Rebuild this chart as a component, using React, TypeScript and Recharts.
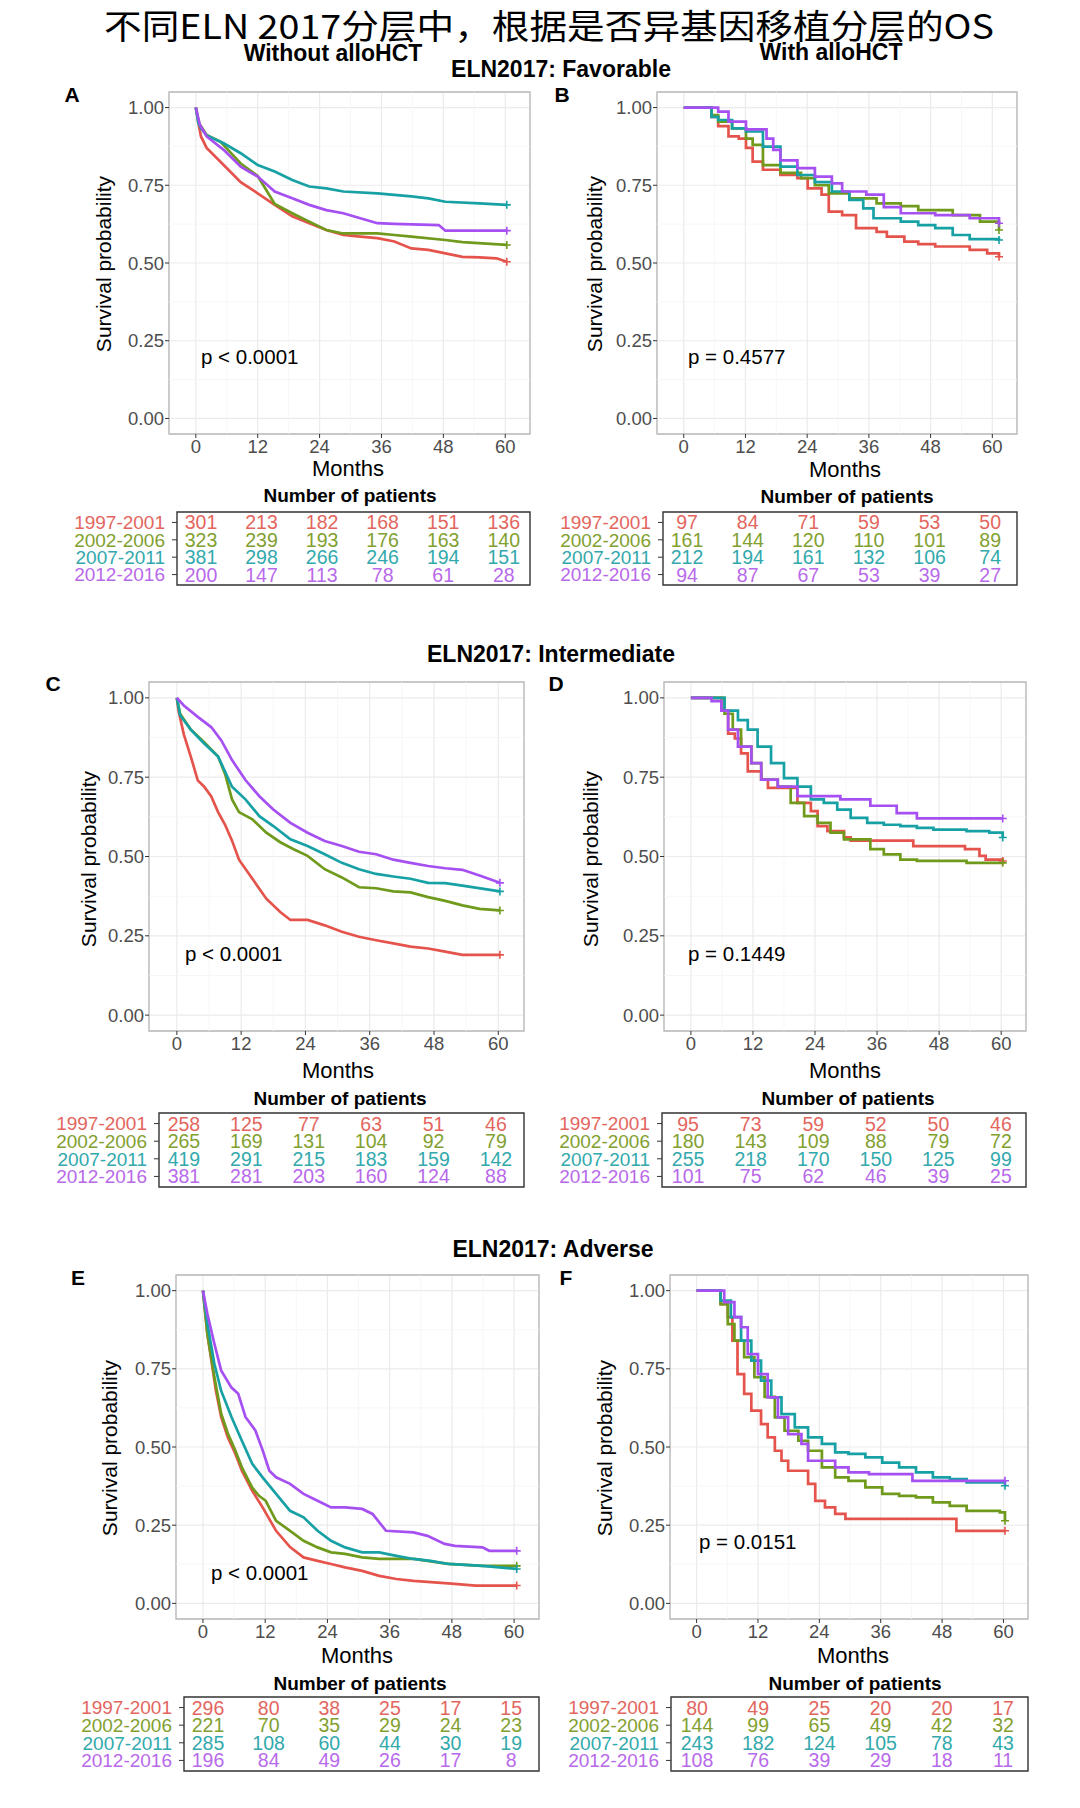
import React from 'react';
import {
  LineChart, Line, XAxis, YAxis, CartesianGrid, ReferenceArea, ReferenceLine,
  ScatterChart, Scatter,
} from 'recharts';

type Pt = [number, number];

const SANS = "'Liberation Sans', Arial, sans-serif";
const GROUPS = ['1997-2001', '2002-2006', '2007-2011', '2012-2016'];
const LINE_COLORS = ['#E5544C', '#6F9A1C', '#17A1A5', '#A650F2'];
const TEXT_COLORS = ['#E3665E', '#82A030', '#32A9AC', '#B869EA'];
const X_TICKS = [0, 12, 24, 36, 48, 60];
const X_MINOR = [6, 18, 30, 42, 54];
const Y_TICKS = [0, 0.25, 0.5, 0.75, 1];
const Y_MINOR = [0.125, 0.375, 0.625, 0.875];
const X_DOMAIN: [number, number] = [-5.2, 64.8];
const Y_DOMAIN: [number, number] = [-0.05, 1.05];

// A: favorable, without alloHCT
const A_1997: Pt[] = [[0, 1], [0.5, 0.95], [1, 0.907], [2.1, 0.87], [5.4, 0.815], [8.7, 0.76], [12, 0.724], [15.3, 0.687], [18.7, 0.65], [22, 0.628], [25.3, 0.606], [28.6, 0.59], [31.9, 0.585], [35.2, 0.58], [38.5, 0.569], [41.8, 0.547], [45.1, 0.542], [48.4, 0.531], [51.7, 0.52], [55, 0.518], [58.3, 0.515], [60.3, 0.504]];
const A_2002: Pt[] = [[0, 1], [0.6, 0.95], [2.1, 0.912], [4.8, 0.89], [8.7, 0.82], [12, 0.78], [15.3, 0.69], [18.7, 0.66], [22, 0.633], [25.3, 0.606], [28.6, 0.595], [35.2, 0.595], [38.5, 0.59], [41.8, 0.585], [48.4, 0.574], [51.7, 0.567], [60.3, 0.558]];
const A_2007: Pt[] = [[0, 1], [0.5, 0.95], [1, 0.933], [2.1, 0.91], [5.4, 0.885], [8.7, 0.853], [12, 0.815], [15.3, 0.794], [18.7, 0.767], [22, 0.746], [25.3, 0.74], [28.6, 0.73], [35.2, 0.724], [38.5, 0.719], [41.8, 0.714], [45.1, 0.708], [48.4, 0.697], [55, 0.692], [60.3, 0.687]];
const A_2012: Pt[] = [[0, 1], [0.8, 0.944], [2.1, 0.907], [5.4, 0.864], [8.7, 0.81], [12, 0.778], [15.3, 0.73], [18.7, 0.708], [22, 0.687], [25.3, 0.67], [28.6, 0.66], [31.9, 0.644], [35.2, 0.628], [38.5, 0.626], [47.1, 0.622], [48.4, 0.604], [60.3, 0.604]];
const A_RISK = [[301, 213, 182, 168, 151, 136], [323, 239, 193, 176, 163, 140], [381, 298, 266, 246, 194, 151], [200, 147, 113, 78, 61, 28]];

// B: favorable, with alloHCT
const B_1997: Pt[] = [[0, 1], [4, 1], [5.4, 0.97], [6.7, 0.94], [8.7, 0.907], [10.7, 0.9], [12.1, 0.87], [13.4, 0.826], [15.4, 0.8], [18.8, 0.783], [22.1, 0.773], [24.1, 0.74], [26.8, 0.72], [28.2, 0.665], [30.8, 0.654], [33.5, 0.612], [37.5, 0.6], [39.5, 0.585], [42.9, 0.569], [45.6, 0.561], [48.9, 0.553], [55.6, 0.542], [59, 0.531], [61.3, 0.52]];
const B_2002: Pt[] = [[0, 1], [3.4, 1], [5.4, 0.976], [6.7, 0.955], [9.4, 0.933], [12.1, 0.9], [13.4, 0.88], [15.4, 0.815], [18.8, 0.79], [22.8, 0.773], [25.5, 0.75], [28.2, 0.724], [32.2, 0.708], [37.5, 0.692], [42.2, 0.683], [45.6, 0.67], [52.3, 0.654], [57.6, 0.633], [61.3, 0.606]];
const B_2007: Pt[] = [[0, 1], [4, 1], [5.4, 0.97], [6.7, 0.96], [9.4, 0.933], [12.1, 0.923], [15.4, 0.874], [18.8, 0.81], [22.1, 0.783], [25.5, 0.76], [28.8, 0.73], [32.2, 0.703], [34.9, 0.676], [36.9, 0.644], [42.2, 0.633], [45.6, 0.622], [48.9, 0.612], [52.3, 0.59], [55.6, 0.577], [61.3, 0.574]];
const B_2012: Pt[] = [[0, 1], [6.4, 1], [6.7, 0.987], [8.7, 0.955], [12.1, 0.93], [15.4, 0.93], [16.1, 0.9], [17.4, 0.864], [18.8, 0.83], [22.1, 0.805], [25.5, 0.778], [28.8, 0.756], [30.8, 0.73], [35.5, 0.72], [38.9, 0.68], [42.2, 0.66], [48.9, 0.654], [55.6, 0.644], [61.3, 0.628]];
const B_RISK = [[97, 84, 71, 59, 53, 50], [161, 144, 120, 110, 101, 89], [212, 194, 161, 132, 106, 74], [94, 87, 67, 53, 39, 27]];

// C: intermediate, without alloHCT
const C_1997: Pt[] = [[0, 1], [0.3, 0.96], [1.3, 0.885], [2.6, 0.815], [3.9, 0.74], [5.1, 0.72], [6.4, 0.69], [7.7, 0.64], [9, 0.6], [10.3, 0.55], [11.6, 0.49], [14.1, 0.43], [16.7, 0.367], [19.3, 0.325], [21.2, 0.3], [24.4, 0.3], [27.6, 0.283], [30.8, 0.263], [34, 0.247], [37.2, 0.236], [40.4, 0.226], [43.6, 0.216], [46.9, 0.21], [50.1, 0.2], [53.3, 0.19], [60.3, 0.19]];
const C_2002: Pt[] = [[0, 1], [0.6, 0.95], [2.6, 0.9], [5.1, 0.86], [7.7, 0.815], [9, 0.76], [10.3, 0.68], [11.6, 0.64], [14.1, 0.617], [16.7, 0.575], [19.3, 0.545], [21.8, 0.523], [24.4, 0.502], [27.6, 0.46], [30.8, 0.434], [34, 0.403], [37.2, 0.4], [40.4, 0.39], [43.6, 0.387], [46.9, 0.372], [50.1, 0.36], [53.3, 0.346], [56.5, 0.335], [60.3, 0.33]];
const C_2007: Pt[] = [[0, 1], [0.6, 0.945], [2.6, 0.9], [5.1, 0.856], [7.7, 0.815], [10.3, 0.72], [12.8, 0.68], [15.4, 0.627], [18, 0.596], [21.2, 0.554], [24.4, 0.533], [27.6, 0.507], [30.8, 0.48], [34, 0.46], [37.2, 0.445], [40.4, 0.437], [43.6, 0.43], [46.9, 0.417], [50.1, 0.416], [53.3, 0.408], [60.3, 0.39]];
const C_2012: Pt[] = [[0, 1], [1.3, 0.976], [3.9, 0.94], [6.4, 0.908], [8.3, 0.866], [10.3, 0.804], [12.8, 0.741], [15.4, 0.69], [18, 0.648], [21.2, 0.606], [24.4, 0.575], [27.6, 0.549], [30.8, 0.533], [34, 0.515], [37.2, 0.507], [40.4, 0.49], [43.6, 0.48], [46.9, 0.47], [50.1, 0.463], [53.3, 0.458], [56.5, 0.44], [60.3, 0.417]];
const C_RISK = [[258, 125, 77, 63, 51, 46], [265, 169, 131, 104, 92, 79], [419, 291, 215, 183, 159, 142], [381, 281, 203, 160, 124, 88]];

// D: intermediate, with alloHCT
const D_1997: Pt[] = [[0, 1], [4.6, 1], [5.9, 0.96], [7.2, 0.887], [8.5, 0.872], [9.7, 0.825], [11, 0.768], [13.6, 0.742], [14.9, 0.716], [20.6, 0.669], [23.2, 0.643], [24.5, 0.596], [26.4, 0.58], [29.6, 0.56], [30.9, 0.55], [43, 0.533], [53, 0.523], [55.8, 0.502], [57, 0.49], [60.3, 0.486]];
const D_2002: Pt[] = [[0, 1], [4.6, 1], [6.5, 0.95], [8.1, 0.9], [9.7, 0.846], [11.7, 0.794], [13.6, 0.742], [16.8, 0.72], [19.3, 0.669], [21.9, 0.627], [24.5, 0.606], [27, 0.575], [29.6, 0.554], [34.7, 0.523], [37.3, 0.507], [40.5, 0.49], [43.7, 0.486], [53.3, 0.48], [60.3, 0.48]];
const D_2007: Pt[] = [[0, 1], [4.9, 1], [6.5, 0.96], [9.1, 0.93], [11, 0.9], [12.9, 0.846], [15.5, 0.794], [18, 0.747], [20.6, 0.72], [23.2, 0.68], [25.7, 0.669], [28.3, 0.648], [30.9, 0.622], [34.1, 0.606], [37.3, 0.6], [40.5, 0.596], [43.7, 0.59], [46.9, 0.585], [53.3, 0.58], [57.7, 0.575], [60.3, 0.56]];
const D_2012: Pt[] = [[0, 1], [2.7, 1], [4, 0.99], [5.9, 0.96], [7.2, 0.9], [9.1, 0.846], [11.7, 0.794], [13.6, 0.742], [16.8, 0.72], [20.6, 0.69], [28.9, 0.68], [34.7, 0.66], [39.8, 0.637], [43.7, 0.62], [60.3, 0.62]];
const D_RISK = [[95, 73, 59, 52, 50, 46], [180, 143, 109, 88, 79, 72], [255, 218, 170, 150, 125, 99], [101, 75, 62, 46, 39, 25]];

// E: adverse, without alloHCT
const E_1997: Pt[] = [[0, 1], [0.86, 0.86], [1.5, 0.79], [2.5, 0.68], [3.5, 0.596], [4.8, 0.53], [6.2, 0.48], [7.5, 0.424], [9.5, 0.36], [11.5, 0.307], [14.1, 0.232], [16.8, 0.18], [19.4, 0.147], [22.1, 0.136], [24.7, 0.126], [27.4, 0.115], [30.7, 0.104], [34, 0.088], [37.3, 0.078], [40.6, 0.072], [47.3, 0.064], [52.6, 0.057], [60.5, 0.057]];
const E_2002: Pt[] = [[0, 1], [0.86, 0.86], [2.2, 0.724], [3.5, 0.607], [4.8, 0.543], [6.2, 0.49], [7.5, 0.435], [9.5, 0.37], [10.8, 0.344], [12.1, 0.328], [14.1, 0.264], [16.8, 0.232], [19.4, 0.2], [22.1, 0.179], [24.7, 0.163], [27.4, 0.158], [30.7, 0.147], [34, 0.142], [40.6, 0.142], [47.3, 0.126], [53.9, 0.12], [60.5, 0.12]];
const E_2007: Pt[] = [[0, 1], [0.86, 0.893], [2.2, 0.766], [3.5, 0.68], [5.5, 0.596], [7.5, 0.52], [9.5, 0.446], [11.5, 0.403], [14.1, 0.35], [16.8, 0.296], [19.4, 0.275], [22.1, 0.232], [24.7, 0.2], [27.4, 0.179], [30.7, 0.163], [34, 0.163], [37.3, 0.152], [40.6, 0.142], [43.9, 0.136], [47.3, 0.126], [53.9, 0.12], [60.5, 0.11]];
const E_2012: Pt[] = [[0, 1], [0.86, 0.925], [2.2, 0.83], [3.5, 0.745], [5.5, 0.69], [6.8, 0.67], [8.2, 0.596], [10.1, 0.553], [11.5, 0.49], [12.8, 0.424], [14.1, 0.403], [16.8, 0.382], [19.4, 0.35], [22.1, 0.328], [24.7, 0.307], [27.4, 0.307], [30.7, 0.302], [32.7, 0.286], [35.3, 0.232], [40.6, 0.227], [43.3, 0.216], [46.6, 0.19], [48.6, 0.184], [53.9, 0.179], [55.2, 0.168], [60.5, 0.168]];
const E_RISK = [[296, 80, 38, 25, 17, 15], [221, 70, 35, 29, 24, 23], [285, 108, 60, 44, 30, 19], [196, 84, 49, 26, 17, 8]];

// F: adverse, with alloHCT
const F_1997: Pt[] = [[0, 1], [2.8, 1], [4.7, 0.957], [6.1, 0.915], [7, 0.84], [8, 0.733], [9.3, 0.67], [10.7, 0.616], [12.6, 0.573], [13.9, 0.531], [15.3, 0.488], [16.6, 0.456], [17.9, 0.424], [21.8, 0.382], [23.2, 0.328], [25.1, 0.307], [27.1, 0.286], [29.1, 0.27], [50.8, 0.232], [60.3, 0.232]];
const F_2002: Pt[] = [[0, 1], [3.1, 1], [4.7, 0.957], [6.1, 0.893], [7.4, 0.84], [9.3, 0.787], [11.3, 0.723], [13.3, 0.66], [15.3, 0.595], [17.2, 0.552], [19.9, 0.52], [21.8, 0.488], [24.5, 0.435], [27.1, 0.403], [29.7, 0.392], [33, 0.371], [36.3, 0.35], [39.6, 0.344], [42.9, 0.339], [46.2, 0.323], [49.5, 0.312], [52.8, 0.296], [59.3, 0.291], [60.3, 0.264]];
const F_2007: Pt[] = [[0, 1], [3.4, 1], [4.7, 0.968], [6.7, 0.915], [8.7, 0.84], [10.7, 0.776], [12.6, 0.712], [14.6, 0.659], [16.6, 0.605], [19.2, 0.563], [21.8, 0.531], [24.5, 0.51], [27.1, 0.483], [29.7, 0.478], [33, 0.467], [36.3, 0.45], [39.6, 0.435], [42.9, 0.419], [46.2, 0.403], [49.5, 0.397], [52.8, 0.387], [60.3, 0.376]];
const F_2012: Pt[] = [[0, 1], [4.1, 1], [5.4, 0.963], [7.4, 0.915], [8.7, 0.883], [10, 0.797], [12, 0.733], [13.9, 0.659], [15.9, 0.595], [17.9, 0.541], [20.5, 0.51], [21.8, 0.456], [27.1, 0.435], [29.7, 0.419], [33.7, 0.413], [42.2, 0.392], [60.3, 0.392]];
const F_RISK = [[80, 49, 25, 20, 20, 17], [144, 99, 65, 49, 42, 32], [243, 182, 124, 105, 78, 43], [108, 76, 39, 29, 18, 11]];

const P_VALUES = ['p < 0.0001', 'p = 0.4577', 'p < 0.0001', 'p = 0.1449', 'p < 0.0001', 'p = 0.0151'];

// layout of the six panels (plot box, table box, label spots)
const PANELS = [
  { id: 'A', series: [A_1997, A_2002, A_2007, A_2012], risk: A_RISK, step: false, box: [169, 530, 92, 434], tbox: [177, 530, 512, 585], tdom: [-4.75, 65.2], letter: [72, 102], ylab: [105, 264], pv: [201, 364], months: [348, 476], nop: [350, 502] },
  { id: 'B', series: [B_1997, B_2002, B_2007, B_2012], risk: B_RISK, step: true, box: [657, 1017, 92, 434], tbox: [663, 1017, 512, 585], tdom: [-4.75, 65.3], letter: [562, 102], ylab: [596, 264], pv: [688, 364], months: [845, 477], nop: [847, 503] },
  { id: 'C', series: [C_1997, C_2002, C_2007, C_2012], risk: C_RISK, step: false, box: [149, 524, 682, 1031], tbox: [159, 524, 1113, 1187], tdom: [-4.8, 65.4], letter: [53, 691], ylab: [90, 859], pv: [185, 961], months: [338, 1078], nop: [340, 1105] },
  { id: 'D', series: [D_1997, D_2002, D_2007, D_2012], risk: D_RISK, step: true, box: [664, 1026, 682, 1031], tbox: [662, 1026, 1113, 1187], tdom: [-5.0, 64.8], letter: [556, 691], ylab: [592, 859], pv: [688, 961], months: [845, 1078], nop: [848, 1105] },
  { id: 'E', series: [E_1997, E_2002, E_2007, E_2012], risk: E_RISK, step: false, box: [176, 539, 1275, 1619], tbox: [184, 539, 1697, 1771], tdom: [-4.75, 65.5], letter: [78, 1285], ylab: [111, 1448], pv: [211, 1580], months: [357, 1663], nop: [360, 1690] },
  { id: 'F', series: [F_1997, F_2002, F_2007, F_2012], risk: F_RISK, step: true, box: [670, 1028, 1275, 1619], tbox: [671, 1028, 1697, 1771], tdom: [-5.1, 64.9], letter: [566, 1285], ylab: [606, 1448], pv: [699, 1549], months: [853, 1663], nop: [855, 1690] },
];

const YW = 60;
const PAD = 10;
const XH = 36;
const TW = 120;

const endMark = (len: number, color: string) => (props: any) => {
  const { cx, cy, index } = props;
  if (index !== len - 1 || cx == null) return <g key={`e${index}`} />;
  return <path key={`e${index}`} d={`M${cx - 4},${cy}h8M${cx},${cy - 4}v8`} stroke={color} strokeWidth={1.6} />;
};

const KMPlot = ({ cfg }: { cfg: any }) => {
  const [x0, x1, y0, y1] = cfg.box;
  const w = x1 - x0;
  const h = y1 - y0;
  return (
    <div style={{ position: 'absolute', left: x0 - YW, top: y0 - PAD }}>
      <LineChart width={YW + w + PAD} height={PAD + h + XH} margin={{ top: PAD, right: PAD, bottom: 0, left: 0 }}>
        <CartesianGrid stroke="#ebebeb" strokeWidth={1.2} />
        {X_MINOR.map((v) => <ReferenceLine key={`xm${v}`} x={v} stroke="#f5f5f5" strokeWidth={0.8} />)}
        {Y_MINOR.map((v) => <ReferenceLine key={`ym${v}`} y={v} stroke="#f5f5f5" strokeWidth={0.8} />)}
        <XAxis dataKey="t" type="number" domain={X_DOMAIN} ticks={X_TICKS} interval={0} allowDataOverflow
          axisLine={false} tickSize={4} tickMargin={2} tickLine={{ stroke: '#333' }}
          tick={{ fill: '#4d4d4d', fontSize: 18.5, fontFamily: SANS }} height={XH} />
        <YAxis dataKey="s" type="number" domain={Y_DOMAIN} ticks={Y_TICKS} interval={0} allowDataOverflow
          axisLine={false} tickSize={4} tickMargin={1} tickLine={{ stroke: '#333' }}
          tick={{ fill: '#4d4d4d', fontSize: 18.5, fontFamily: SANS }} width={YW}
          tickFormatter={(v: number) => v.toFixed(2)} />
        <ReferenceArea x1={X_DOMAIN[0]} x2={X_DOMAIN[1]} y1={Y_DOMAIN[0]} y2={Y_DOMAIN[1]}
          fill="none" stroke="#b8b8b8" strokeWidth={1.3} />
        {cfg.series.map((d: Pt[], i: number) => (
          <Line key={GROUPS[i]} data={d.map(([t, s]) => ({ t, s }))} dataKey="s"
            type={cfg.step ? 'stepAfter' : 'linear'} stroke={LINE_COLORS[i]} strokeWidth={2.7}
            dot={endMark(d.length, LINE_COLORS[i])} activeDot={false} isAnimationActive={false} />
        ))}
      </LineChart>
    </div>
  );
};

const rowTick = (props: any) => {
  const { x, y, payload } = props;
  return (
    <text x={x} y={y} dy="0.36em" textAnchor="end" fill={TEXT_COLORS[payload.value]}
      fontSize={19} fontFamily={SANS}>{GROUPS[payload.value]}</text>
  );
};

const numShape = (color: string) => (props: any) => (
  <text x={props.cx} y={props.cy} dy="0.36em" textAnchor="middle" fill={color}
    fontSize={19.5} fontFamily={SANS}>{props.payload.n}</text>
);

const RiskTable = ({ cfg }: { cfg: any }) => {
  const [x0, x1, y0, y1] = cfg.tbox;
  const w = x1 - x0;
  const h = y1 - y0;
  return (
    <div style={{ position: 'absolute', left: x0 - TW, top: y0 - 2 }}>
      <ScatterChart width={TW + w + 2} height={h + 4} margin={{ top: 2, right: 2, bottom: 2, left: 0 }}>
        <XAxis dataKey="t" type="number" domain={cfg.tdom} hide allowDataOverflow />
        <YAxis dataKey="row" type="number" domain={[-0.6, 3.6]} reversed ticks={[0, 1, 2, 3]} interval={0}
          axisLine={false} tickSize={5} tickMargin={7} tickLine={{ stroke: '#333' }} tick={rowTick} width={TW} />
        <ReferenceArea x1={cfg.tdom[0]} x2={cfg.tdom[1]} y1={-0.6} y2={3.6} fill="none" stroke="#333" strokeWidth={1.4} />
        {cfg.risk.map((row: number[], i: number) => (
          <Scatter key={GROUPS[i]} data={X_TICKS.map((t, j) => ({ t, row: i, n: row[j] }))}
            shape={numShape(TEXT_COLORS[i])} isAnimationActive={false} />
        ))}
      </ScatterChart>
    </div>
  );
};

const App = () => (
  <div style={{ position: 'absolute', left: 0, top: 0, width: 1080, height: 1808, background: '#fff', overflow: 'hidden' }}>
    {PANELS.map((p) => <KMPlot key={`k${p.id}`} cfg={p} />)}
    {PANELS.map((p) => <RiskTable key={`r${p.id}`} cfg={p} />)}
    <svg width={1080} height={1808} style={{ position: 'absolute', left: 0, top: 0, pointerEvents: 'none' }}>
      <text x={549} y={39} textAnchor="middle" fontSize={34} textLength={890} lengthAdjust="spacingAndGlyphs"
        fontFamily="'Noto Sans CJK SC'" fill="#000">
        不同ELN 2017分层中，根据是否异基因移植分层的OS
      </text>
      <g fontFamily={SANS} fontWeight="bold" fontSize={23} textAnchor="middle" fill="#000">
        <text x={333} y={61}>Without alloHCT</text>
        <text x={831} y={60}>With alloHCT</text>
        <text x={561} y={77}>ELN2017: Favorable</text>
        <text x={551} y={662}>ELN2017: Intermediate</text>
        <text x={553} y={1257}>ELN2017: Adverse</text>
      </g>
      {PANELS.map((p, i) => (
        <g key={`t${p.id}`} fontFamily={SANS} fill="#000">
          <text x={p.letter[0]} y={p.letter[1]} fontSize={21} fontWeight="bold" textAnchor="middle">{p.id}</text>
          <text transform={`translate(${p.ylab[0] + 6},${p.ylab[1]}) rotate(-90)`} fontSize={21} textAnchor="middle">Survival probability</text>
          <text x={p.pv[0]} y={p.pv[1]} fontSize={20.5}>{P_VALUES[i]}</text>
          <text x={p.months[0]} y={p.months[1]} fontSize={22} textAnchor="middle">Months</text>
          <text x={p.nop[0]} y={p.nop[1]} fontSize={19} fontWeight="bold" textAnchor="middle">Number of patients</text>
        </g>
      ))}
    </svg>
  </div>
);

export default App;
